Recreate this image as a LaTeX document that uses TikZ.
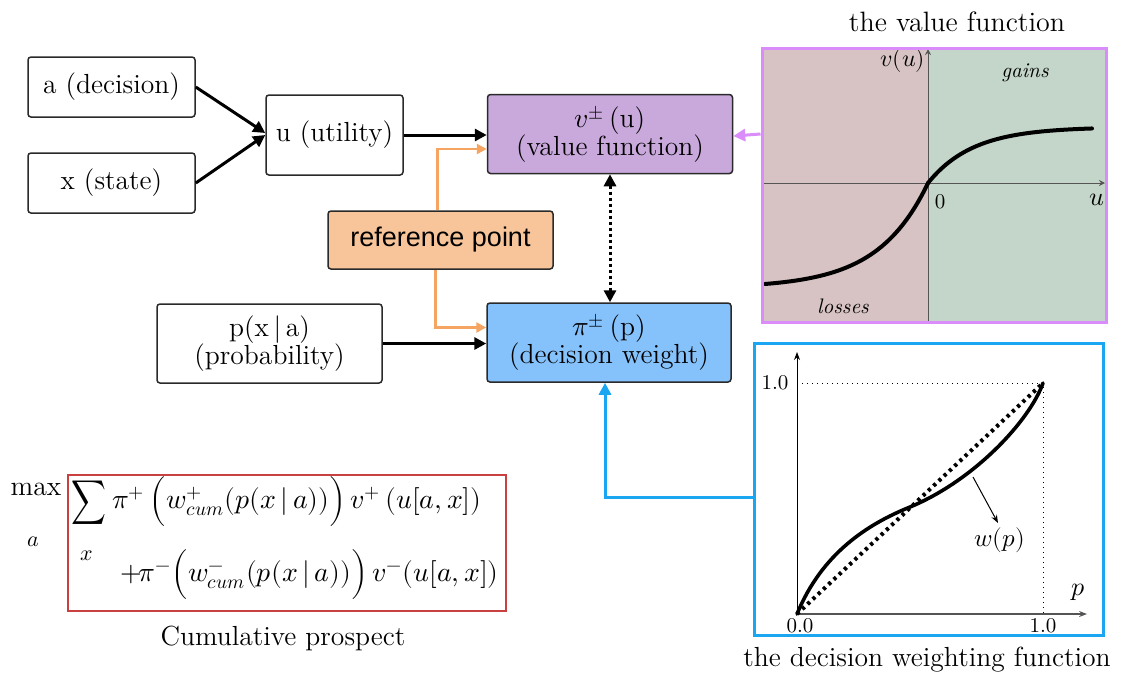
\documentclass[tikz,border=0pt]{standalone}
\usepackage{fontspec}
\usepackage{unicode-math}
\newfontfamily\arialish{Liberation Sans}
\usetikzlibrary{arrows.meta,calc}

\definecolor{boxline}{HTML}{2A2A2A}
\definecolor{vfill}{HTML}{C9A9DC}
\definecolor{pifill}{HTML}{85C1FA}
\definecolor{reffill}{HTML}{F8C59B}
\definecolor{refarrow}{HTML}{F5A462}
\definecolor{vfborder}{HTML}{D98CFA}
\definecolor{wfborder}{HTML}{1AA6F1}
\definecolor{lossfill}{HTML}{D7C3C3}
\definecolor{gainfill}{HTML}{C4D6CA}
\definecolor{cpred}{HTML}{C94040}
\definecolor{axisgray}{HTML}{555555}

\newcommand\mainfs{\fontsize{13.8}{14}\selectfont}

\begin{document}
\begin{tikzpicture}[x=0.5pt,y=-0.5pt,
  box/.style={draw=boxline, line width=0.75pt, rounded corners=1.5pt,
    align=center, inner sep=0pt, font=\mainfs},
  arr/.style={line width=1.5pt, -{Triangle[length=6pt,width=6pt]}},
  orarr/.style={draw=refarrow, line width=1.25pt,
    -{Triangle[length=5pt,width=5pt,fill=refarrow]}},
  lbl/.style={font=\mainfs, inner sep=0pt},
  eqn/.style={font=\fontsize{13.9}{15}\selectfont, inner sep=0pt},
  small/.style={font=\fontsize{10.5}{12}\selectfont, inner sep=0pt}]

\useasboundingbox (0,0) rectangle (1128,677);

% ---------- model boxes ----------
\node[box, minimum width=83.5pt, minimum height=30pt] (a) at (111.5,87) {a (decision)};
\node[box, minimum width=83.5pt, minimum height=30pt] (x) at (111.5,183) {x (state)};
\node[box, minimum width=68.5pt, minimum height=40pt] (u) at (334.5,135) {u (utility)};
\node[box, fill=vfill, minimum width=122.5pt, minimum height=39.5pt] (v) at (610,134)
  {$v^{\pm}$\,(u)\\(value function)};
\node[box, fill=pifill, minimum width=122pt, minimum height=39.5pt] (pi) at (609,342.5)
  {$\pi^{\pm}$\,(p)\\(decision weight)};
\node[box, fill=reffill, minimum width=112.5pt, minimum height=29pt,
  font=\arialish\fontsize{13.5}{14}\selectfont] (ref) at (440.5,240) {reference point};
\node[box, minimum width=112.5pt, minimum height=39.5pt] (p) at (269.5,343.5)
  {p(x\,|\,a)\\(probability)};

% ---------- value function panel ----------
\fill[lossfill] (762,48) rectangle (928,322);
\fill[gainfill] (928,48) rectangle (1106,322);
\draw[axisgray, line width=0.5pt, -{Stealth[length=3pt,width=3pt]}] (762,183) -- (1105,183);
\draw[axisgray, line width=0.5pt, -{Stealth[length=3pt,width=3pt]}] (928,322) -- (928,49);
\draw[line width=2pt, line cap=round]
  plot[domain=765:928, samples=70] ({\x},{183+105*(1-exp((\x-928)/50))});
\draw[line width=2pt, line cap=round]
  plot[domain=928:1092, samples=70] ({\x},{183-56*(1-exp(-(\x-928)/45))});
\node[small, font=\fontsize{12}{13}\selectfont] (vu) at (903,60) {$v(u)$};
\node[small, font=\itshape\fontsize{10.5}{12}\selectfont] (gains) at (1025,73) {gains};
\node[small, font=\itshape\fontsize{10.5}{12}\selectfont] (losses) at (843,306) {losses};
\node[small] (zero) at (940,202) {0};
\node[small, font=\fontsize{13}{14}\selectfont] (uax) at (1097,200) {$u$};
\node[draw=vfborder, line width=1.5pt, minimum width=172pt, minimum height=137pt,
  inner sep=0pt] (vf) at (934,185) {};
\node[lbl, font=\fontsize{14}{15}\selectfont] (t1) at (957,22) {the value function};

% ---------- decision weighting panel ----------
\draw[black, line width=0.5pt, -{Stealth[length=4pt,width=3pt]}] (797,614) -- (797,352);
\draw[axisgray, line width=0.6pt, -{Stealth[length=4pt,width=3pt]}] (797,614) -- (1087,614);
\draw[line width=0.5pt, dotted] (797,383) -- (1043,383) -- (1043,614);
\draw[line width=2pt, dash pattern=on 1.6pt off 2pt] (797,614) -- (1043,383);
\draw[line width=1.8pt, line cap=round]
  (797,614) .. controls (822,553) and (868,524) .. (910,507)
            .. controls (975,480) and (1030,420) .. (1043,383);
\draw[line width=0.5pt, -{Stealth[length=4pt,width=3pt]}] (973,477) -- (998,523);
\node[small, font=\fontsize{12.5}{14}\selectfont] (wp) at (1000,540) {$w(p)$};
\node[small, font=\fontsize{13}{14}\selectfont] (pax) at (1078,592) {$p$};
\node[small] (y1) at (775,383) {1.0};
\node[small] (x0) at (800,626) {0.0};
\node[small] (x1) at (1043,626) {1.0};
\node[draw=wfborder, line width=1.5pt, minimum width=174.5pt, minimum height=146pt,
  inner sep=0pt] (wf) at (928.5,489) {};
\node[lbl] (t2) at (927,660) {the decision weighting function};

% ---------- cumulative prospect ----------
\node[draw=cpred, line width=0.6pt, minimum width=219pt, minimum height=68pt,
  inner sep=0pt] (cp) at (287,543) {};
\node[eqn] (mx) at (36,489) {$\max$};
\node[eqn, font=\fontsize{11}{12}\selectfont] (ma) at (33,542) {$a$};
\node[eqn, font=\fontsize{15.5}{16}\selectfont] (sg) at (89,503)
  {\scalebox{0.78}[1]{$\displaystyle\sum$}};
\node[eqn, font=\fontsize{11}{12}\selectfont] (sx) at (87,556) {$x$};
\node[eqn, anchor=west] (l1) at (112,502)
  {$\pi^{+}\,\Bigl(w^{+}_{cum}(p(x\,|\,a))\Bigr)\,v^{+}\,(u[a,x])$};
\node[eqn, anchor=east] (l2) at (499,575)
  {$+\mkern-2mu\pi^{-}\Bigl(w^{-}_{cum}(p(x\,|\,a))\Bigr)\,v^{-}(u[a,x])$};
\node[lbl] (t3) at (283,638) {Cumulative prospect};

% ---------- connectors ----------
\draw[arr] (a.east) -- ([yshift=1pt]u.west);
\draw[arr] (x.east) -- (u.west);
\draw[arr] (u.east) -- (u.east -| v.west);
\draw[arr] (p.east) -- (p.east -| pi.west);
\draw[orarr] ([xshift=-1.5pt]ref.north) |- ([yshift=-7.5pt]v.west);
\draw[orarr] ([xshift=-2.5pt]ref.south) |- ([yshift=7.5pt]pi.west);
\draw[line width=1.5pt, dash pattern=on 1.5pt off 1.5pt,
  {Triangle[length=6pt,width=6pt]}-{Triangle[length=6pt,width=6pt]}]
  (v.south) -- (v.south |- pi.north);
\draw[vfborder, line width=1.5pt, -{Triangle[length=6pt,width=6pt]}]
  (v.east -| vf.west) -- ([yshift=-1pt]v.east);
\draw[wfborder, line width=1.5pt, -{Triangle[length=6pt,width=6pt]}]
  ([yshift=-4pt]wf.west) -| ([xshift=-2pt]pi.south);

\end{tikzpicture}
\end{document}
